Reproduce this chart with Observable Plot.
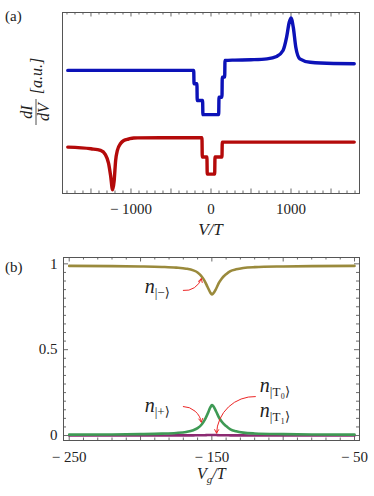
<!DOCTYPE html>
<html>
<head>
<meta charset="utf-8">
<script src="https://cdn.jsdelivr.net/npm/d3@7"></script>
<script src="https://cdn.jsdelivr.net/npm/@observablehq/plot@0.6"></script>
<style>
  html, body { margin: 0; padding: 0; background: #fff; }
  #chart svg { display: block; }
  #chart svg text { font-family: "Liberation Serif", "DejaVu Serif", serif; }
</style>
</head>
<body>
<div id="chart"></div>
<script>
// ---------- Panel (a): dI/dV vs V/T ----------
const blueV = [-1790, -216, -212, -176, -172, -105, -101, 96, 100, 137, 141, 171, 175, 300, 500, 700, 820, 900, 945, 978, 1000, 1028, 1060, 1110, 1240, 1530, 1790];
const blueG = [6.80, 6.80, 6.06, 6.06, 5.14, 5.14, 4.36, 4.36, 5.32, 5.32, 6.43, 6.43, 7.35, 7.37, 7.39, 7.44, 7.57, 7.90, 8.64, 9.46, 9.70, 9.19, 8.08, 7.44, 7.25, 7.18, 7.17];
const redV = [-1790, -1500, -1380, -1320, -1280, -1255, -1230, -1210, -1192, -1170, -1130, -1090, -1030, -965, -630, -113, -109, -51, -47, 46, 50, 137, 141, 1790];
const redG = [2.56, 2.47, 2.38, 2.15, 1.66, 0.99, 0.20, 0.72, 1.82, 2.38, 2.76, 2.93, 3.01, 3.07, 3.08, 3.08, 2.02, 2.02, 1.07, 1.07, 2.02, 2.02, 2.84, 2.84];
const xTicksA = [-1000, 0, 1000];
const xTickLabelsA = ["\u2212 1000", "0", "1000"];

// ---------- Panel (b): occupations vs Vg/T ----------
const vg = [-250, -220, -200, -185, -175, -168, -163, -160, -157, -155, -153, -151, -150, -149, -147, -145, -143, -140, -137, -133, -128, -120, -100, -80, -50];
const nMinus = [0.988, 0.987, 0.985, 0.982, 0.978, 0.972, 0.962, 0.950, 0.925, 0.900, 0.865, 0.832, 0.822, 0.828, 0.855, 0.890, 0.915, 0.940, 0.958, 0.968, 0.976, 0.981, 0.985, 0.987, 0.988];
const nPlus = [0.005, 0.006, 0.008, 0.011, 0.015, 0.021, 0.031, 0.043, 0.066, 0.091, 0.126, 0.165, 0.177, 0.171, 0.140, 0.105, 0.080, 0.055, 0.036, 0.025, 0.017, 0.012, 0.008, 0.006, 0.005];
const nT = [0.000, 0.000, 0.000, 0.000, 0.001, 0.001, 0.001, 0.002, 0.002, 0.002, 0.003, 0.003, 0.003, 0.003, 0.003, 0.002, 0.002, 0.002, 0.001, 0.001, 0.001, 0.000, 0.000, 0.000, 0.000];
const xTicksB = [-250, -150, -50];
const xTickLabelsB = ["\u2212 250", "\u2212 150", "\u2212 50"];
const yTicksB = [0, 0.5, 1];
const yTickLabelsB = ["0", "0.5", "1"];

const FONT = "Liberation Serif, DejaVu Serif, serif";
const W = 374;

// ----- panel (a) -----
const A = {h: 250, mt: 12, mb: 57, ml: 62, mr: 15};
const fhA = A.h - A.mt - A.mb;
const minorA = d3.range(-1800, 1801, 100).filter(d => d % 500 !== 0);
const majorA = d3.range(-1500, 1501, 500);
const blueData = blueV.map((v, i) => ({v, g: blueG[i]}));
const redData = redV.map((v, i) => ({v, g: redG[i]}));
const tick = "#444";

const plotA = Plot.plot({
  width: W, height: A.h,
  marginTop: A.mt, marginBottom: A.mb, marginLeft: A.ml, marginRight: A.mr,
  style: {fontFamily: FONT, fontSize: "15px", color: "#222", background: "#fff"},
  x: {domain: [-1856, 1856]},
  y: {domain: [0, 10], axis: null},
  marks: [
    Plot.tickX(minorA, {insetTop: fhA - 2.5, stroke: tick, strokeWidth: 0.8}),
    Plot.tickX(majorA, {insetTop: fhA - 4.5, stroke: tick, strokeWidth: 0.8}),
    Plot.tickX(minorA, {insetBottom: fhA - 2.5, stroke: tick, strokeWidth: 0.8}),
    Plot.tickX(majorA, {insetBottom: fhA - 4.5, stroke: tick, strokeWidth: 0.8}),
    Plot.line(blueData, {x: "v", y: "g", stroke: "#0c12b8", strokeWidth: 3.4, curve: "monotone-x"}),
    Plot.line(redData, {x: "v", y: "g", stroke: "#b40a0a", strokeWidth: 3.4, curve: "monotone-x"}),
    Plot.axisX({ticks: xTicksA, tickSize: 0, tickPadding: 10, label: null,
      tickFormat: d => xTickLabelsA[xTicksA.indexOf(d)], fontSize: 15}),
    Plot.frame({stroke: "#555", strokeWidth: 1})
  ]
});

// ----- panel (b) -----
const B = {h: 246, mt: 7, mb: 56, ml: 63, mr: 15};
const fhB = B.h - B.mt - B.mb;
const fwB = W - B.ml - B.mr;
const minorBx = d3.range(-250, -49, 10).filter(d => (d + 250) % 50 !== 0);
const majorBx = d3.range(-250, -49, 50);
const minorBy = d3.range(0, 1.001, 0.05).filter((d, i) => i % 10 !== 0);
const majorBy = [0, 0.5, 1];
const bData = vg.map((v, i) => ({v, m: nMinus[i], p: nPlus[i], t: nT[i]}));

const plotB = Plot.plot({
  width: W, height: B.h,
  marginTop: B.mt, marginBottom: B.mb, marginLeft: B.ml, marginRight: B.mr,
  style: {fontFamily: FONT, fontSize: "15px", color: "#222", background: "#fff"},
  x: {domain: [-254, -46.5]},
  y: {domain: [-0.029, 1.037]},
  marks: [
    Plot.tickX(minorBx, {insetTop: fhB - 2.5, stroke: tick, strokeWidth: 0.8}),
    Plot.tickX(majorBx, {insetTop: fhB - 4.5, stroke: tick, strokeWidth: 0.8}),
    Plot.tickX(minorBx, {insetBottom: fhB - 2.5, stroke: tick, strokeWidth: 0.8}),
    Plot.tickX(majorBx, {insetBottom: fhB - 4.5, stroke: tick, strokeWidth: 0.8}),
    Plot.tickY(minorBy, {insetRight: fwB - 3, stroke: tick, strokeWidth: 0.8}),
    Plot.tickY(majorBy, {insetRight: fwB - 5, stroke: tick, strokeWidth: 0.8}),
    Plot.tickY(minorBy, {insetLeft: fwB - 3, stroke: tick, strokeWidth: 0.8}),
    Plot.tickY(majorBy, {insetLeft: fwB - 5, stroke: tick, strokeWidth: 0.8}),
    Plot.line(bData, {x: "v", y: "t", stroke: "#8c2a72", strokeWidth: 2.6, curve: "monotone-x"}),
    Plot.line(bData, {x: "v", y: "p", stroke: "#3f9a55", strokeWidth: 2.6, curve: "monotone-x"}),
    Plot.line(bData, {x: "v", y: "m", stroke: "#9a8a3c", strokeWidth: 2.6, curve: "monotone-x"}),
    Plot.arrow([{}], {x1: -170, y1: 0.845, x2: -157.4, y2: 0.914, bend: -40, stroke: "#ec2626", strokeWidth: 1, headLength: 6}),
    Plot.arrow([{}], {x1: -170, y1: 0.169, x2: -157.4, y2: 0.078, bend: 40, stroke: "#ec2626", strokeWidth: 1, headLength: 6}),
    Plot.arrow([{}], {x1: -119.5, y1: 0.227, x2: -146.7, y2: 0.014, bend: -45, stroke: "#ec2626", strokeWidth: 1, headLength: 6}),
    Plot.axisX({ticks: xTicksB, tickSize: 0, tickPadding: 11, label: null,
      tickFormat: d => xTickLabelsB[xTicksB.indexOf(d)], fontSize: 15}),
    Plot.axisY({ticks: yTicksB, tickSize: 0, tickPadding: 6, label: null,
      tickFormat: d => yTickLabelsB[yTicksB.indexOf(d)], fontSize: 15}),
    Plot.frame({stroke: "#555", strokeWidth: 1})
  ]
});

const chart = document.getElementById("chart");
chart.appendChild(plotA);
chart.appendChild(plotB);

// ----- text annotations (a) -----
const sa = d3.select(plotA);
sa.append("text").attr("x", 5).attr("y", 21).attr("text-anchor", "start").attr("font-size", 15).attr("fill", "#222").text("(a)");
sa.append("text").attr("x", plotA.scale("x").apply(0)).attr("y", 235).attr("text-anchor", "middle")
  .attr("font-size", 17).attr("font-style", "italic").attr("fill", "#222").text("V/T");
const yl = sa.append("g").attr("transform", "translate(37,93) rotate(-90)")
  .attr("fill", "#222").attr("font-style", "italic").attr("text-anchor", "middle");
yl.append("text").attr("x", -19).attr("y", -5).attr("font-size", 16).text("dI");
yl.append("line").attr("x1", -32).attr("x2", -6).attr("y1", -1).attr("y2", -1).attr("stroke", "#222").attr("stroke-width", 0.8);
yl.append("text").attr("x", -19).attr("y", 12).attr("font-size", 16).text("dV");
yl.append("text").attr("x", 17).attr("y", 5).attr("font-size", 16).text("[a.u.]");

// ----- text annotations (b) -----
const sb = d3.select(plotB);
const xb = plotB.scale("x"), yb = plotB.scale("y");
sb.append("text").attr("x", 5).attr("y", 22).attr("text-anchor", "start").attr("font-size", 15).attr("fill", "#222").text("(b)");
const vgl = sb.append("text").attr("x", xb.apply(-150)).attr("y", 229).attr("text-anchor", "middle")
  .attr("font-size", 16).attr("font-style", "italic").attr("fill", "#222");
vgl.append("tspan").text("V");
vgl.append("tspan").attr("font-size", 11).attr("dy", 4).text("g");
vgl.append("tspan").attr("dy", -4).text("/T");

const labels = [
  {v: -196.7, n: 0.83, sub: "|\u2212\u27E9"},
  {v: -196.7, n: 0.135, sub: "|+\u27E9"},
  {v: -116, n: 0.25, sub: "|T\u2080\u27E9"},
  {v: -116, n: 0.105, sub: "|T\u2081\u27E9"}
];
for (const L of labels) {
  const t = sb.append("text").attr("x", xb.apply(L.v)).attr("y", yb.apply(L.n))
    .attr("text-anchor", "start").attr("fill", "#222");
  t.append("tspan").attr("font-size", 20).attr("font-style", "italic").text("n");
  t.append("tspan").attr("font-size", 13).attr("dy", 4).text(L.sub);
}
</script>
</body>
</html>
